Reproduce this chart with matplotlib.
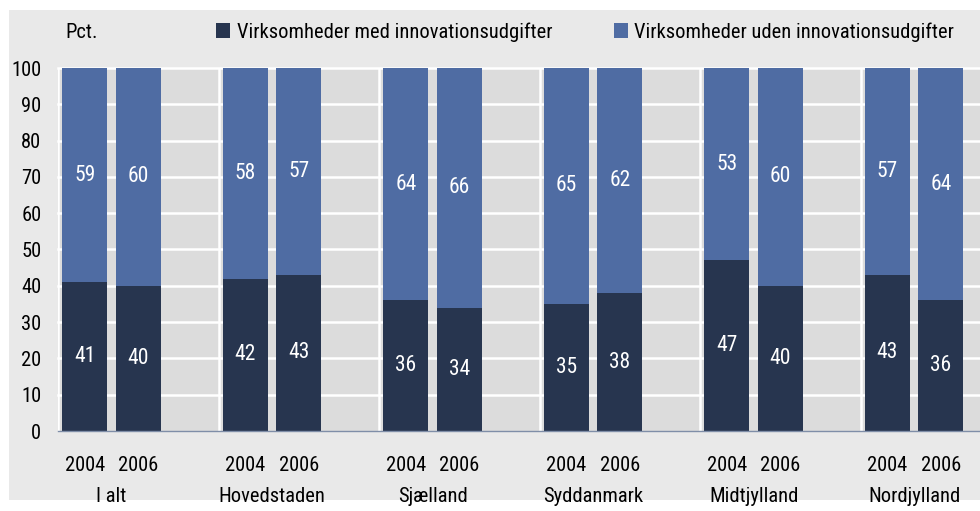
import numpy as np
import matplotlib
matplotlib.use("Agg")
import matplotlib.pyplot as plt
from matplotlib.patches import Rectangle, Patch


# ---------- DATA ---------- #

regions = ["I alt", "Hovedstaden", "Sjælland", "Syddanmark", "Midtjylland", "Nordjylland"]
years = ["2004", "2006"]

# andel virksomheder med innovationsudgifter (pct.)
med_2004 = [41, 42, 36, 35, 47, 43]
med_2006 = [40, 43, 34, 38, 40, 36]

# andel virksomheder uden innovationsudgifter (pct.)
uden_2004 = [59, 58, 64, 65, 53, 57]
uden_2006 = [60, 57, 66, 62, 60, 64]

series_names = ["Virksomheder med innovationsudgifter", "Virksomheder uden innovationsudgifter"]


# ---------- STYLE ---------- #

plt.rcParams["font.family"] = ["Roboto Condensed", "Liberation Sans Narrow", "Roboto", "DejaVu Sans"]
fs = 14.8

dark = "#27354f"
blue = "#4f6ca3"
panel = "#e9e9e9"
plotbg = "#dcdcdc"


# ---------- FIGURE ---------- #

fig = plt.figure(figsize=(9.8, 5.11), dpi=100)
fig.patch.set_facecolor("white")
fig.patches.append(Rectangle((9 / 980, 1 - 500 / 511), 1 - 9 / 980, 490 / 511,
                             transform=fig.transFigure, facecolor=panel,
                             edgecolor="none", zorder=-10))

ax = fig.add_axes([58 / 980, 1 - 431 / 511, 1 - 58 / 980, 363 / 511])
ax.set_facecolor(plotbg)


# ---------- BARS ---------- #

med = []
uden = []
pos = []
for g in range(len(regions)):
    med += [med_2004[g], med_2006[g]]
    uden += [uden_2004[g], uden_2006[g]]
    pos += [3 * g, 3 * g + 1]
pos = np.array(pos)
med = np.array(med)
uden = np.array(uden)

ax.bar(pos, med, width=0.84, color=dark, zorder=3)
ax.bar(pos, uden, width=0.84, bottom=med, color=blue, zorder=3)

for x, m, u in zip(pos, med, uden):
    ax.text(x, m / 2, str(m), ha="center", va="center", color="white", fontsize=15.5, zorder=4)
    ax.text(x, m + u / 2, str(u), ha="center", va="center", color="white", fontsize=15.5, zorder=4)


# ---------- AXES ---------- #

ax.set_xlim(-0.5, 16.73)
ax.set_ylim(0, 100)
ax.set_yticks(range(0, 101, 10))
ax.set_xticks(pos)
ax.set_xticklabels(years * len(regions))
ax.tick_params(axis="both", length=0, labelsize=fs)
ax.tick_params(axis="y", pad=12)
ax.tick_params(axis="x", pad=18)

# horisontale og lodrette gitterlinjer
for yv in range(10, 101, 10):
    ax.axhline(yv, color="white", linewidth=1.8, zorder=1, clip_on=False)
for g in range(len(regions)):
    ax.axvline(3 * g - 0.5, color="white", linewidth=1.8, zorder=1)

for s in ["top", "right", "left"]:
    ax.spines[s].set_visible(False)
ax.spines["bottom"].set_color("#7f8ea8")
ax.spines["bottom"].set_linewidth(1)
ax.spines["bottom"].set_zorder(5)

for g, name in enumerate(regions):
    ax.text(3 * g + 0.5, -0.18, name, transform=ax.get_xaxis_transform(),
            ha="center", va="center", fontsize=fs)

fig.text(65 / 980, 1 - 33 / 511, "Pct.", ha="left", va="center", fontsize=fs)


# ---------- LEGEND ---------- #

handles = [Patch(facecolor=dark), Patch(facecolor=blue)]
fig.legend(handles, series_names, ncol=2, loc="center left",
           bbox_to_anchor=(216 / 980, 1 - 32 / 511), frameon=False,
           handlelength=0.7, handleheight=0.7, handletextpad=0.3,
           columnspacing=3.0, fontsize=fs, borderaxespad=0, borderpad=0)

fig.savefig("out.png", dpi=100, facecolor=fig.get_facecolor())
